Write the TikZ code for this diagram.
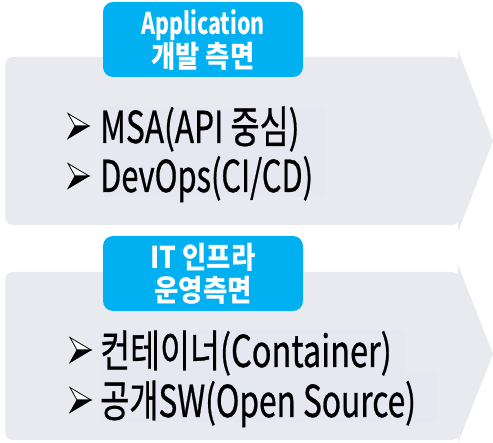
\documentclass[tikz,border=0pt]{standalone}
\usepackage{graphicx}
\usepackage{fontspec}
\setmainfont{Noto Sans CJK KR}
\newfontfamily\itemfont[FakeBold=0.8]{Noto Sans CJK KR}
\definecolor{bodygray}{HTML}{E9EAF0}
\definecolor{hlgray}{HTML}{E5E8F1}
\definecolor{labelblue}{HTML}{00B0F0}
\newcommand\narrowlatin[1]{\scalebox{0.71}[1]{#1}}
\newcommand\narrowhangul[1]{\scalebox{0.88}[1]{#1}}
\newcommand\narrowitem[1]{\scalebox{0.72}[1]{#1}}
\tikzset{
  bodyshape/.style={fill=bodygray, rounded corners=8pt},
  headshape/.style={fill=bodygray},
  labelbox/.style={fill=labelblue, rounded corners=10pt, minimum width=200pt, minimum height=75pt, inner sep=0pt, text=white, font=\bfseries\fontsize{30}{33}\selectfont, align=center},
  itemtext/.style={anchor=base west, inner sep=0pt, font=\itemfont\fontsize{44}{46}\selectfont},
  bulletlight/.style={fill=white, draw=black, line width=0.8pt, line join=miter},
  bulletdark/.style={fill=black, draw=black, line width=0.8pt, line join=miter}
}
\newcommand\arrowbullet[3]{%
  % #1 name, #2 x of back, #3 y of centre
  \coordinate (#1) at (#2+10,#3);
  \filldraw[bulletlight] (#2,#3-12.5) -- (#2+21,#3) -- (#2+7,#3) -- cycle;
  \filldraw[bulletdark] (#2+7,#3) -- (#2+21,#3) -- (#2,#3+12.5) -- cycle;
}
\begin{document}
\begin{tikzpicture}[x=1pt,y=-1pt]
\useasboundingbox (0,0) rectangle (493,443);
% ---------- panel 1
\fill[headshape] (458,50) -- (493,141) -- (458,232) -- cycle;
\fill[bodyshape] (5,57) rectangle (460,225);
\fill[hlgray] (100,107) rectangle (325,197);
\node[labelbox] (lab1) at (203,39.5) {\narrowlatin{Application}\\\narrowhangul{개발 측면}};
\arrowbullet{b1}{68}{126}
\arrowbullet{b2}{68}{176}
\node[itemtext] (t1) at (100,143) {\narrowitem{MSA(API 중심)}};
\node[itemtext] (t2) at (100,192) {\scalebox{0.7}[1]{DevOps(CI/CD)}};
% ---------- panel 2
\fill[headshape] (458,265) -- (493,354) -- (458,443) -- cycle;
\fill[bodyshape] (5,272) rectangle (460,440);
\fill[hlgray] (100,330) rectangle (405,373);
\fill[hlgray] (100,373) rectangle (437,422);
\node[labelbox] (lab2) at (203,273.5) {\narrowhangul{IT 인프라}\\\narrowhangul{운영측면}};
\arrowbullet{b3}{70}{350}
\arrowbullet{b4}{70}{400}
\node[itemtext] (t3) at (100,367) {\scalebox{0.74}[1]{컨테이너(Container)}};
\node[itemtext] (t4) at (100,417) {\narrowitem{공개SW(Open Source)}};
\end{tikzpicture}
\end{document}
